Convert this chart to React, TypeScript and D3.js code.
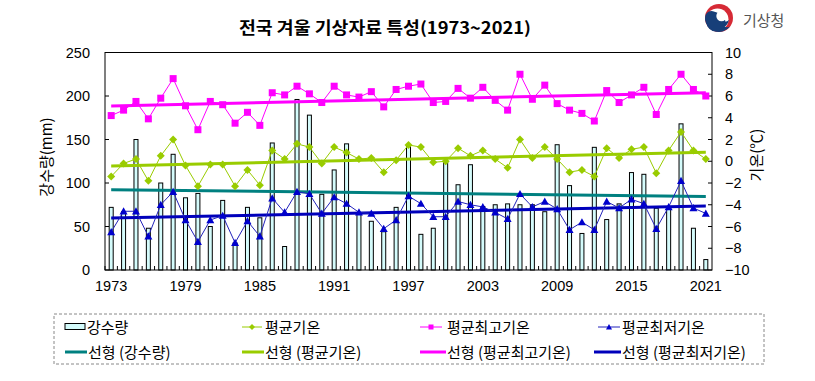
import React from "react";
import * as d3 from "d3";

const years = [1973,1974,1975,1976,1977,1978,1979,1980,1981,1982,1983,1984,1985,1986,1987,1988,1989,1990,1991,1992,1993,1994,1995,1996,1997,1998,1999,2000,2001,2002,2003,2004,2005,2006,2007,2008,2009,2010,2011,2012,2013,2014,2015,2016,2017,2018,2019,2020,2021];
const xTickYears = [1973,1979,1985,1991,1997,2003,2009,2015,2021];
const precip = [72,67,150,48,100,133,83,88,50,80,31,72,60,146,27,196,178,87,115,145,66,56,44,72,142,41,48,125,98,121,73,75,76,75,75,67,144,97,42,141,58,76,112,110,71,73,168,48,12];
const meanT = [-1.4,-0.2,0.2,-1.8,0.5,2.0,-0.4,-2.3,-0.3,-0.3,-2.3,-0.8,-2.2,1.0,0.2,1.6,1.3,-0.2,1.3,0.8,0.2,0.3,-1.0,0.1,1.5,1.3,-0.1,0.0,1.2,0.5,1.0,0.2,-0.6,2.0,0.3,1.3,0.2,-1.0,-0.8,-1.4,1.2,0.3,1.1,1.3,-1.1,1.0,2.7,1.0,0.2];
const maxT = [4.2,4.7,5.5,3.9,5.8,7.6,5.1,2.9,5.5,5.2,3.5,4.5,3.3,6.3,6.1,6.9,6.2,5.4,6.9,6.1,5.9,6.4,5.0,6.6,6.9,7.1,5.4,5.5,6.7,5.8,6.8,5.6,4.7,8.0,5.7,7.0,5.3,4.7,4.4,3.7,6.5,5.4,6.1,6.8,4.3,6.6,8.0,6.6,6.0];
const minT = [-6.5,-4.6,-4.6,-6.9,-4.0,-2.8,-5.4,-7.4,-5.4,-5.0,-7.5,-5.5,-6.9,-3.4,-4.7,-2.8,-3.0,-4.8,-3.3,-3.9,-4.7,-4.8,-6.2,-5.4,-3.2,-3.9,-5.1,-5.1,-3.7,-4.0,-4.2,-4.7,-5.3,-3.0,-4.2,-3.7,-4.4,-6.3,-5.6,-6.3,-3.7,-4.3,-3.5,-3.9,-6.2,-4.2,-1.8,-4.3,-4.8];
const leftTicks = [0,50,100,150,200,250];
const rightTicks = [-10,-8,-6,-4,-2,0,2,4,6,8,10];

const TITLE = "전국 겨울 기상자료 특성(1973~2021)";
const KR = "'Noto Sans CJK KR', 'Noto Sans', sans-serif";
const NUM = "'Liberation Sans', Arial, sans-serif";

const C_BAR = "#d4fbfb";
const C_MEAN = "#99cc00";
const C_MAX = "#ff00ff";
const C_MIN = "#0000cc";
const C_PTREND = "#008080";
const C_MEANTREND = "#99cc00";
const C_MAXTREND = "#ff00ff";
const C_MINTREND = "#0000bb";

function regress(vals: number[]) {
  const n = vals.length;
  const xs = vals.map((_, i) => i);
  const mx = d3.mean(xs) as number;
  const my = d3.mean(vals) as number;
  let num = 0, den = 0;
  for (let i = 0; i < n; i++) { num += (xs[i] - mx) * (vals[i] - my); den += (xs[i] - mx) ** 2; }
  const b = num / den;
  const a = my - b * mx;
  return [a, a + b * (n - 1)];
}

export default function App() {
  const L = 105, R = 712, T = 52.5, B = 270;
  const x = d3.scaleBand<number>().domain(years).range([L, R]).paddingInner(0).paddingOuter(0);
  const bw = x.bandwidth();
  const cx = (y: number) => (x(y) as number) + bw / 2;
  const yL = d3.scaleLinear().domain([0, 250]).range([B, T]);
  const yR = d3.scaleLinear().domain([-10, 10]).range([B, T]);
  const fmtR = d3.format("d");

  const lineR = (vals: number[]) =>
    d3.line<number>().x((_, i) => cx(years[i])).y((v) => yR(v))(vals) as string;

  const pt = regress(precip);
  const mt = regress(meanT);
  const xt = regress(maxT);
  const nt = regress(minT);
  const first = cx(years[0]);
  const last = cx(years[years.length - 1]);

  const diamond = (px: number, py: number, s: number, c: string, k: string | number) => (
    <path key={k} d={`M${px},${py - s}L${px + s},${py}L${px},${py + s}L${px - s},${py}Z`} fill={c} />
  );
  const square = (px: number, py: number, s: number, c: string, k: string | number) => (
    <rect key={k} x={px - s} y={py - s} width={2 * s} height={2 * s} fill={c} />
  );
  const tri = (px: number, py: number, s: number, c: string, k: string | number) => (
    <path key={k} d={`M${px},${py - s}L${px + s},${py + s * 0.8}L${px - s},${py + s * 0.8}Z`} fill={c} />
  );

  const r1 = 327, r2 = 352;
  const lx = 719, ly = 18;

  return (
    <svg width={815} height={381} style={{ position: "absolute", left: 0, top: 0, background: "#fff" }}>
      <rect x={0} y={0} width={815} height={381} fill="#fff" />
      {/* title */}
      <text x={385} y={34} textAnchor="middle" fontFamily={KR} fontWeight="bold" fontSize={16.5} fill="#000"
        textLength={292} lengthAdjust="spacingAndGlyphs">{TITLE}</text>

      {/* logo */}
      <g>
        <circle cx={lx} cy={ly} r={14} fill="#d62a35" />
        <circle cx={lx - 1.5} cy={ly + 1.5} r={11} fill="#fff" />
        <path d={`M${lx - 14},${ly + 1} A14,14 0 0 0 ${lx + 11},${ly + 8.5} A7,7 0 0 1 ${lx + 1},${ly + 2} A7,7 0 0 0 ${lx - 14},${ly + 1} Z`} fill="#173f79" />
        <path d={`M${lx - 13.5},${ly - 3} A7.2,7.2 0 0 1 ${lx},${ly - 1} A6,6 0 0 0 ${lx + 10},${ly + 2} A9,9 0 0 1 ${lx - 13.5},${ly - 3} Z`} fill="#173f79" />
        <circle cx={lx - 3} cy={ly + 4} r={9.5} fill="#173f79" />
        <circle cx={lx + 2.5} cy={ly - 2} r={5.2} fill="#fff" />
        <text x={743} y={26} fontFamily={KR} fontSize={15} fill="#555">기상청</text>
      </g>

      {/* bars */}
      {years.map((yr, i) => (
        <rect key={"b" + yr} x={cx(yr) - 2} y={yL(precip[i])} width={4} height={B - yL(precip[i])}
          fill={C_BAR} stroke="#000" strokeWidth={1} />
      ))}

      {/* plot frame */}
      <rect x={L} y={T} width={R - L} height={B - T} fill="none" stroke="#000" strokeWidth={1} />

      {/* bottom inward ticks */}
      {years.map((yr) => (
        <line key={"xt" + yr} x1={x(yr) as number} x2={x(yr) as number} y1={B} y2={B - 4} stroke="#000" />
      ))}
      {/* left ticks */}
      {leftTicks.map((t) => (
        <g key={"lt" + t}>
          <line x1={L} x2={L + 4} y1={yL(t)} y2={yL(t)} stroke="#000" />
          <text x={90} y={yL(t) + 5} textAnchor="end" fontFamily={NUM} fontSize={14.5} fill="#000">{t}</text>
        </g>
      ))}
      {/* right ticks */}
      {rightTicks.map((t) => (
        <g key={"rt" + t}>
          <line x1={R - 4} x2={R} y1={yR(t)} y2={yR(t)} stroke="#000" />
          <text x={725} y={yR(t) + 5} textAnchor="start" fontFamily={NUM} fontSize={14.5} fill="#000">{fmtR(t)}</text>
        </g>
      ))}
      {/* x labels */}
      {xTickYears.map((yr) => (
        <text key={"xl" + yr} x={cx(yr)} y={291} textAnchor="middle" fontFamily={NUM} fontSize={14.5} fill="#000">{yr}</text>
      ))}

      {/* axis titles */}
      <text transform="translate(52,157) rotate(-90)" textAnchor="middle" fontFamily={KR} fontSize={15} fill="#000">강수량(mm)</text>
      <text transform="translate(762,155) rotate(-90)" textAnchor="middle" fontFamily={KR} fontSize={15} fill="#000">기온(℃)</text>

      {/* trend lines */}
      <line x1={first} x2={last} y1={yL(pt[0])} y2={yL(pt[1])} stroke={C_PTREND} strokeWidth={3} />
      <line x1={first} x2={last} y1={yR(mt[0])} y2={yR(mt[1])} stroke={C_MEANTREND} strokeWidth={3} />
      <line x1={first} x2={last} y1={yR(xt[0])} y2={yR(xt[1])} stroke={C_MAXTREND} strokeWidth={3} />
      <line x1={first} x2={last} y1={yR(nt[0])} y2={yR(nt[1])} stroke={C_MINTREND} strokeWidth={3} />

      {/* series */}
      <path d={lineR(meanT)} fill="none" stroke={C_MEAN} strokeWidth={1} />
      <path d={lineR(maxT)} fill="none" stroke={C_MAX} strokeWidth={1} />
      <path d={lineR(minT)} fill="none" stroke="#2222bb" strokeWidth={1} />
      {meanT.map((v, i) => diamond(cx(years[i]), yR(v), 4, C_MEAN, "md" + i))}
      {maxT.map((v, i) => square(cx(years[i]), yR(v), 3.5, C_MAX, "xs" + i))}
      {minT.map((v, i) => tri(cx(years[i]), yR(v), 4, C_MIN, "nt" + i))}

      {/* legend */}
      <rect x={54} y={314} width={710} height={50} fill="none" stroke="#888" strokeWidth={1} strokeDasharray="3,2" />
      <g fontFamily={KR} fontSize={15} fill="#000">
        <rect x={65} y={323.5} width={20} height={6} fill={C_BAR} stroke="#000" strokeWidth={1} />
        <text x={87} y={r1 + 5.5}>강수량</text>
        <line x1={242} x2={262} y1={r1} y2={r1} stroke={C_MEAN} strokeWidth={1} />
        {diamond(252, r1, 3, C_MEAN, "lg1")}
        <text x={265} y={r1 + 5.5}>평균기온</text>
        <line x1={420} x2={442} y1={r1} y2={r1} stroke={C_MAX} strokeWidth={1} />
        {square(431, r1, 2.5, C_MAX, "lg2")}
        <text x={447} y={r1 + 5.5}>평균최고기온</text>
        <line x1={598} x2={620} y1={r1} y2={r1} stroke="#2222bb" strokeWidth={1} />
        {tri(609, r1, 3, C_MIN, "lg3")}
        <text x={622} y={r1 + 5.5}>평균최저기온</text>

        <line x1={65} x2={87} y1={r2} y2={r2} stroke={C_PTREND} strokeWidth={3} />
        <text x={88} y={r2 + 5.5}>선형 (강수량)</text>
        <line x1={242} x2={264} y1={r2} y2={r2} stroke={C_MEANTREND} strokeWidth={3} />
        <text x={265} y={r2 + 5.5}>선형 (평균기온)</text>
        <line x1={420} x2={446} y1={r2} y2={r2} stroke={C_MAXTREND} strokeWidth={3} />
        <text x={447} y={r2 + 5.5}>선형 (평균최고기온)</text>
        <line x1={594} x2={621} y1={r2} y2={r2} stroke={C_MINTREND} strokeWidth={3} />
        <text x={622} y={r2 + 5.5}>선형 (평균최저기온)</text>
      </g>
    </svg>
  );
}
